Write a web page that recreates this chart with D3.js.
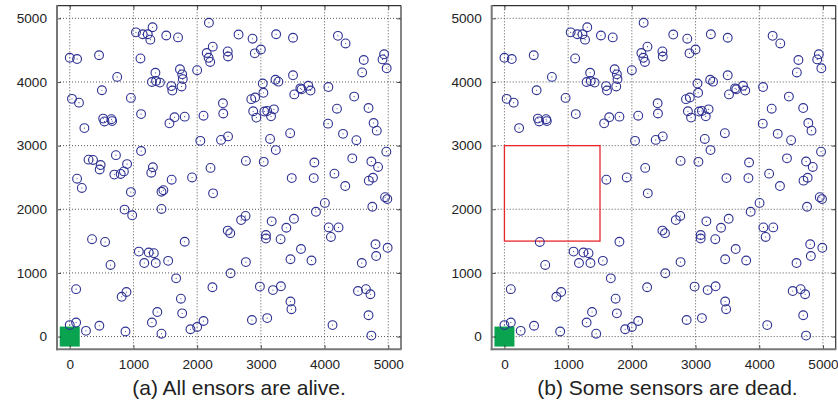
<!DOCTYPE html>
<html>
<head>
<meta charset="utf-8">
<script src="https://cdn.jsdelivr.net/npm/d3@7/dist/d3.min.js"></script>
<style>
html,body{margin:0;padding:0;background:#fff;}
svg{display:block;}
text{font-family:"Liberation Sans",Arial,Helvetica,sans-serif;fill:#222;}
</style>
</head>
<body>
<script>
// ---- data ----
const sensorX = [1300,1040,1145,1225,1265,1515,1700,2185,2245,2150,2180,2205,0,115,460,1110,1345,1290,1355,1415,
745,505,960,35,145,1595,1610,1730,1765,1775,1755,2000,1120,525,545,655,665,230,1645,1805,
1565,2100,2050,1120,295,365,485,470,725,900,700,800,850,1305,1280,2210,115,1600,1920,190,
960,1440,1470,2250,860,980,1440,350,555,1805,1085,1240,1320,640,1170,1350,1545,1670,100,2240,
890,815,1745,1375,1765,1290,2100,2000,1895,0,100,255,465,875,1440,
2650,2870,3240,3505,4210,4330,2480,2485,2905,3000,4615,4590,4935,4910,4975,3505,3030,3230,3275,3040,
2850,2910,2405,2410,3525,3620,3640,3745,3780,4060,4465,4195,4690,2880,3055,3100,2930,3160,3205,4055,
4770,4820,4290,4500,2375,2485,3145,3460,3235,4970,2765,3045,3840,4435,4735,4840,4155,3485,3830,4760,
4695,4325,4950,4985,4005,3865,4750,2760,2690,2480,2520,3170,3520,3400,3080,3080,3310,4065,4220,4100,
3630,3465,3795,4800,4810,4990,4585,2765,2525,2985,3190,3315,3465,3480,4525,4650,4720,4690,2860,3100,
4125,4735];
const sensorY = [4860,4780,4750,4750,4665,4730,4700,4930,4555,4455,4380,4315,4380,4360,4420,4370,4145,4000,4015,3990,
4080,3870,3750,3735,3675,3935,3865,4200,4120,4045,3930,4185,3495,3425,3380,3415,3385,3275,3445,3455,
3350,3470,3075,2915,2780,2775,2695,2625,2850,2710,2545,2555,2595,2660,2575,2650,2480,2465,2500,2335,
2270,2275,2300,2250,1995,1905,2005,1530,1487,1490,1335,1320,1310,1125,1155,1155,1190,915,745,775,
700,625,595,385,365,220,245,150,115,180,220,90,170,80,45,
4745,4680,4750,4695,4725,4605,4480,4400,4450,4510,4345,4150,4435,4355,4215,4105,3975,4035,4005,3830,
3730,3755,3665,3505,3805,3900,3885,3940,3865,3920,3770,3580,3590,3540,3535,3545,3440,3460,3570,3345,
3355,3235,3185,3085,3090,3145,3105,3195,2930,2905,2760,2745,2735,2800,2750,2665,2560,2490,2490,2495,
2450,2365,2190,2160,2100,1960,2040,1895,1830,1665,1625,1810,1850,1710,1595,1540,1530,1715,1715,1565,
1375,1215,1195,1450,1265,1395,1155,1170,995,785,730,790,550,430,715,745,665,335,260,290,
180,15];
const tickValues = [0,1000,2000,3000,4000,5000];
const axisDomain = [-200,5200];
const sinkXY = [0,0];
const deadRegion = {x0:0, x1:1500, y0:1500, y1:3000};
const panelTitles = ["(a) All ensors are alive.", "(b) Some sensors are dead."];

// ---- drawing ----
const W = 838, H = 402;
const svg = d3.select("body").append("svg").attr("width", W).attr("height", H);

const pts = sensorX.map((x,i)=>({x, y:sensorY[i]}));
const isDead = p => p.x > deadRegion.x0 && p.x < deadRegion.x1 && p.y > deadRegion.y0 && p.y < deadRegion.y1;

function drawPanel(left, right, titleX, title, data, showDead){
  const x = d3.scaleLinear().domain(axisDomain).range([left, right]);
  const y = d3.scaleLinear().domain(axisDomain).range([349.3, 5.6]);
  const g = svg.append("g");

  // grid
  g.append("g").selectAll("line.gx").data(tickValues).join("line")
    .attr("x1", d=>x(d)).attr("x2", d=>x(d))
    .attr("y1", y(axisDomain[0])).attr("y2", y(axisDomain[1]))
    .attr("stroke", "#444").attr("stroke-width", 0.9).attr("stroke-dasharray", "1,2");
  g.append("g").selectAll("line.gy").data(tickValues).join("line")
    .attr("y1", d=>y(d)).attr("y2", d=>y(d))
    .attr("x1", x(axisDomain[0])).attr("x2", x(axisDomain[1]))
    .attr("stroke", "#444").attr("stroke-width", 0.9).attr("stroke-dasharray", "1,2");

  // dead region
  if (showDead){
    g.append("rect")
      .attr("x", x(deadRegion.x0)).attr("y", y(deadRegion.y1))
      .attr("width", x(deadRegion.x1)-x(deadRegion.x0))
      .attr("height", y(deadRegion.y0)-y(deadRegion.y1))
      .attr("fill", "none").attr("stroke", "#e8262b").attr("stroke-width", 1.3);
  }

  // sink
  g.append("rect")
    .attr("x", x(sinkXY[0])-10).attr("y", y(sinkXY[1])-10)
    .attr("width", 20).attr("height", 20).attr("fill", "#0aa450");

  // sensors
  const s = g.append("g").selectAll("g").data(data).join("g")
    .attr("transform", d=>`translate(${x(d.x)},${y(d.y)})`);
  s.append("circle").attr("r", 4.4).attr("fill", "none")
    .attr("stroke", "#2e3192").attr("stroke-width", 1.1);
  s.append("circle").attr("r", 0.55).attr("fill", "#2e3192");

  // axes
  const fs = "13.6px";
  const ax = g.append("g").attr("transform", `translate(0,${y(axisDomain[0])})`)
    .call(d3.axisBottom(x).tickValues(tickValues).tickSize(-4).tickPadding(10).tickFormat(d3.format("d")));
  const ay = g.append("g").attr("transform", `translate(${x(axisDomain[0])},0)`)
    .call(d3.axisLeft(y).tickValues(tickValues).tickSize(-4).tickPadding(10).tickFormat(d3.format("d")));
  const at = g.append("g").attr("transform", `translate(0,${y(axisDomain[1])})`)
    .call(d3.axisTop(x).tickValues(tickValues).tickSize(-4).tickFormat(""));
  const ar = g.append("g").attr("transform", `translate(${x(axisDomain[1])},0)`)
    .call(d3.axisRight(y).tickValues(tickValues).tickSize(-4).tickFormat(""));
  [ax, ay, at, ar].forEach(a=>{
    a.select(".domain").remove();
    a.selectAll(".tick line").attr("stroke", "#222").attr("stroke-width", 0.8);
    a.selectAll("text").attr("font-size", fs).attr("fill", "#222")
      .attr("font-family", "'Liberation Sans',Arial,sans-serif");
  });

  // frame
  const X0 = x(axisDomain[0]), X1 = x(axisDomain[1]), Y0 = y(axisDomain[0]), Y1 = y(axisDomain[1]);
  g.append("line").attr("x1", X0).attr("x2", X1).attr("y1", Y1).attr("y2", Y1).attr("stroke", "#333").attr("stroke-width", 1.2);
  g.append("line").attr("x1", X1).attr("x2", X1).attr("y1", Y1).attr("y2", Y0).attr("stroke", "#333").attr("stroke-width", 1.2);
  g.append("line").attr("x1", X0).attr("x2", X0).attr("y1", Y1-0.6).attr("y2", Y0+1).attr("stroke", "#777").attr("stroke-width", 2);
  g.append("line").attr("x1", X0-1).attr("x2", X1+0.6).attr("y1", Y0).attr("y2", Y0).attr("stroke", "#777").attr("stroke-width", 2);

  // title
  svg.append("text").attr("x", titleX).attr("y", 395).attr("text-anchor", "middle")
    .attr("font-size", "21px").text(title);
}

drawPanel(57, 401, 239, panelTitles[0], pts, false);
drawPanel(491.7, 835.7, 667.5, panelTitles[1], pts.filter(p=>!isDead(p)), true);
</script>
</body>
</html>
